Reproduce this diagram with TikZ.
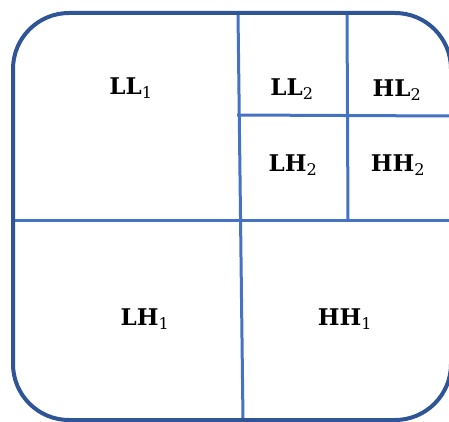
\documentclass[tikz,border=0pt]{standalone}
\usepackage{fontspec}
\setmainfont{DejaVu Serif}
\definecolor{frame}{HTML}{2F5597}
\definecolor{grid}{HTML}{4472C4}
\begin{document}
\begin{tikzpicture}[x=1pt,y=-1pt,
  gridline/.style={draw=grid,line width=3pt},
  lab/.style={font=\bfseries\fontsize{23}{26}\selectfont,inner sep=0pt}]
\useasboundingbox (0,0) rectangle (449,422);
% grid lines
\draw[gridline] (13,220) -- (449,220);
\draw[gridline] (238,13) -- (243,420);
\draw[gridline] (237,115) -- (449,116);
\draw[gridline] (347,13) -- (348,220);
% frame
\draw[frame,line width=4pt,rounded corners=56] (13,13) rectangle (451,420);
% labels
\node[lab] (ll1) at (131,88) {LL\textsubscript{\mdseries 1}};
\node[lab] (ll2) at (292,89) {LL\textsubscript{\mdseries 2}};
\node[lab] (hl2) at (397,90) {HL\textsubscript{\mdseries 2}};
\node[lab] (lh2) at (293,165) {LH\textsubscript{\mdseries 2}};
\node[lab] (hh2) at (398,165) {HH\textsubscript{\mdseries 2}};
\node[lab] (lh1) at (145,319) {LH\textsubscript{\mdseries 1}};
\node[lab] (hh1) at (345,319) {HH\textsubscript{\mdseries 1}};
\end{tikzpicture}
\end{document}
